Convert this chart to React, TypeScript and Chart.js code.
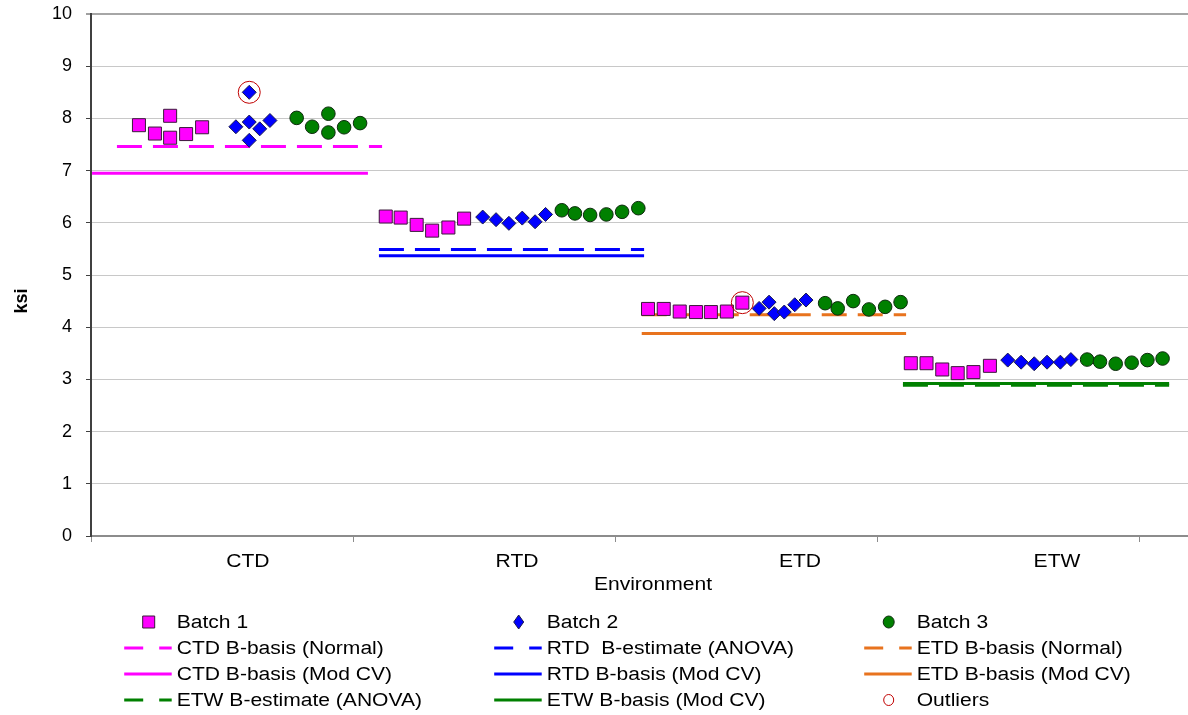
import React, { useEffect, useRef } from "react";
import { Chart, registerables } from "chart.js";

Chart.register(...registerables);

const FONT = "'Liberation Sans', Arial, Helvetica, sans-serif";

// Environments along the x axis and where their labels sit (axis units)
const categories = ["CTD", "RTD", "ETD", "ETW"];
const categoryLabelX = [0.599, 1.626, 2.706, 3.687];
const xAxisTitle = "Environment";
const yAxisTitle = "ksi";
const yTicks = [0, 1, 2, 3, 4, 5, 6, 7, 8, 9, 10];

// Batch 1 specimens (x = plotting position, y = strength in ksi)
const batch1X = [
  0.183, 0.244, 0.302, 0.302, 0.363, 0.424,
  1.125, 1.182, 1.243, 1.302, 1.364, 1.424,
  2.126, 2.186, 2.247, 2.309, 2.366, 2.427, 2.486,
  3.129, 3.189, 3.249, 3.308, 3.368, 3.431,
];
const batch1Y = [
  7.87, 7.71, 8.05, 7.63, 7.7, 7.83,
  6.12, 6.1, 5.96, 5.85, 5.91, 6.08,
  4.35, 4.35, 4.3, 4.29, 4.29, 4.3, 4.47,
  3.31, 3.31, 3.19, 3.12, 3.14, 3.26,
];

// Batch 2 specimens
const batch2X = [
  0.553, 0.604, 0.604, 0.604, 0.644, 0.683,
  1.495, 1.546, 1.595, 1.646, 1.695, 1.735,
  2.55, 2.588, 2.608, 2.646, 2.686, 2.729,
  3.499, 3.55, 3.6, 3.649, 3.7, 3.74,
];
const batch2Y = [
  7.84, 7.93, 8.5, 7.58, 7.8, 7.96,
  6.11, 6.06, 5.99, 6.09, 6.02, 6.16,
  4.36, 4.48, 4.26, 4.29, 4.43, 4.52,
  3.37, 3.33, 3.3, 3.33, 3.33, 3.38,
];

// Batch 3 specimens
const batch3X = [
  0.785, 0.844, 0.906, 0.906, 0.966, 1.027,
  1.797, 1.847, 1.905, 1.967, 2.027, 2.089,
  2.802, 2.85, 2.909, 2.969, 3.031, 3.09,
  3.802, 3.851, 3.911, 3.972, 4.032, 4.09,
];
const batch3Y = [
  8.01, 7.84, 8.09, 7.73, 7.83, 7.91,
  6.24, 6.18, 6.15, 6.16, 6.21, 6.28,
  4.46, 4.36, 4.5, 4.34, 4.39, 4.48,
  3.38, 3.34, 3.3, 3.32, 3.37, 3.4,
];

// Flagged outliers
const outlierX = [0.604, 2.486];
const outlierY = [8.5, 4.47];

// Basis / estimate values and the x-range each one spans
const basisLabels = [
  "CTD B-basis (Normal)",
  "CTD B-basis (Mod CV)",
  "RTD  B-estimate (ANOVA)",
  "RTD B-basis (Mod CV)",
  "ETD B-basis (Normal)",
  "ETD B-basis (Mod CV)",
  "ETW B-estimate (ANOVA)",
  "ETW B-basis (Mod CV)",
];
const basisValues = [7.46, 6.95, 5.49, 5.37, 4.24, 3.88, 2.89, 2.92];
const basisFrom = [0.099, 0.004, 1.099, 1.099, 2.102, 2.102, 3.099, 3.099];
const basisTo = [1.111, 1.057, 2.111, 2.111, 3.111, 3.111, 4.115, 4.115];

// Line styling for the basis series
const basisColors = ["#ff00ff", "#ff00ff", "#0000ff", "#0000ff", "#e8731e", "#e8731e", "#008000", "#008000"];
const basisDashed = [true, false, true, false, true, false, true, false];

// Legend reading order, three columns per row
const legendOrder = [
  "Batch 1", "Batch 2", "Batch 3",
  "CTD B-basis (Normal)", "RTD  B-estimate (ANOVA)", "ETD B-basis (Normal)",
  "CTD B-basis (Mod CV)", "RTD B-basis (Mod CV)", "ETD B-basis (Mod CV)",
  "ETW B-estimate (ANOVA)", "ETW B-basis (Mod CV)", "Outliers",
];

const toPoints = (xs: number[], ys: number[]) => xs.map((x, i) => ({ x, y: ys[i] }));

// Text drawn slightly wide, the way the axis and legend lettering appears
function drawWideText(
  ctx: CanvasRenderingContext2D,
  text: string,
  x: number,
  y: number,
  align: CanvasTextAlign,
  size = 18,
  bold = false
) {
  ctx.save();
  ctx.translate(x, y);
  ctx.scale(1.17, 1);
  ctx.font = `${bold ? "bold " : ""}${size}px ${FONT}`;
  ctx.fillStyle = "#000000";
  ctx.textAlign = align;
  ctx.textBaseline = "middle";
  ctx.fillText(text, 0, 0);
  ctx.restore();
}

function drawMarker(ctx: CanvasRenderingContext2D, ds: any, cx: number, cy: number) {
  ctx.save();
  ctx.fillStyle = ds.backgroundColor;
  ctx.strokeStyle = ds.borderColor;
  ctx.lineWidth = 1;
  ctx.beginPath();
  if (ds.pointStyle === "rect") {
    ctx.rect(cx - 6, cy - 6, 12, 12);
  } else if (ds.pointStyle === "rectRot") {
    ctx.moveTo(cx, cy - 7);
    ctx.lineTo(cx + 5, cy);
    ctx.lineTo(cx, cy + 7);
    ctx.lineTo(cx - 5, cy);
    ctx.closePath();
  } else {
    const r = ds.label === "Outliers" ? 5.5 : 6;
    ctx.ellipse(cx, cy, r - 0.5, r, 0, 0, Math.PI * 2);
  }
  if (ds.backgroundColor !== "transparent") ctx.fill();
  ctx.stroke();
  ctx.restore();
}

const overlayPlugin = {
  id: "overlayText",
  afterDraw(chart: any) {
    const ctx: CanvasRenderingContext2D = chart.ctx;
    const xs = chart.scales.x;

    // category labels and axis titles
    categories.forEach((c, i) => {
      drawWideText(ctx, c, xs.getPixelForValue(categoryLabelX[i]), 562, "center");
    });
    drawWideText(ctx, xAxisTitle, 653, 585, "center");

    ctx.save();
    ctx.translate(22, 301);
    ctx.rotate(-Math.PI / 2);
    ctx.font = `bold 18px ${FONT}`;
    ctx.fillStyle = "#000000";
    ctx.textAlign = "center";
    ctx.textBaseline = "middle";
    ctx.fillText(yAxisTitle, 0, 0);
    ctx.restore();

    // legend: 3 columns x 4 rows
    const colTextX = [176.7, 546.7, 916.7];
    const rowY = [622, 648, 674, 700];
    legendOrder.forEach((label, idx) => {
      const ds = chart.data.datasets.find((d: any) => d.label === label);
      if (!ds) return;
      const tx = colTextX[idx % 3];
      const ry = rowY[Math.floor(idx / 3)];
      if (ds.showLine) {
        ctx.save();
        ctx.strokeStyle = ds.borderColor;
        ctx.lineWidth = 3;
        ctx.setLineDash(ds.borderDash && ds.borderDash.length ? [19, 16] : []);
        ctx.beginPath();
        ctx.moveTo(tx - 52.5, ry);
        ctx.lineTo(tx - 5, ry);
        ctx.stroke();
        ctx.restore();
      } else {
        drawMarker(ctx, ds, tx - 28, ry);
      }
      drawWideText(ctx, label, tx, ry + 1, "left");
    });
  },
};

export default function App() {
  const canvasRef = useRef<HTMLCanvasElement | null>(null);

  useEffect(() => {
    if (!canvasRef.current) return;

    const basisSets = basisLabels.map((label, i) => ({
      label,
      data: [
        { x: basisFrom[i], y: basisValues[i] },
        { x: basisTo[i], y: basisValues[i] },
      ],
      showLine: true,
      borderColor: basisColors[i],
      backgroundColor: basisColors[i],
      borderWidth: 3,
      borderDash: basisDashed[i] ? [25, 11] : [],
      borderCapStyle: "butt",
      pointRadius: 0,
      fill: false,
    }));

    const chart = new Chart(canvasRef.current, {
      type: "scatter",
      data: {
        datasets: [
          {
            label: "Outliers",
            data: toPoints(outlierX, outlierY),
            pointStyle: "circle",
            pointRadius: 11,
            backgroundColor: "transparent",
            borderColor: "#c00000",
            borderWidth: 1,
          },
          {
            label: "Batch 1",
            data: toPoints(batch1X, batch1Y),
            pointStyle: "rect",
            pointRadius: 9.2,
            backgroundColor: "#ff00ff",
            borderColor: "#3a1a3a",
            borderWidth: 1,
          },
          {
            label: "Batch 2",
            data: toPoints(batch2X, batch2Y),
            pointStyle: "rectRot",
            pointRadius: 7,
            backgroundColor: "#0000ff",
            borderColor: "#1a1a4d",
            borderWidth: 1,
          },
          {
            label: "Batch 3",
            data: toPoints(batch3X, batch3Y),
            pointStyle: "circle",
            pointRadius: 6.8,
            backgroundColor: "#008000",
            borderColor: "#0d2a0d",
            borderWidth: 1,
          },
          ...basisSets,
        ] as any,
      },
      options: {
        animation: false,
        responsive: false,
        events: [],
        layout: { autoPadding: false, padding: { top: 14, right: 0, bottom: 0, left: 0 } },
        plugins: {
          legend: { display: false },
          tooltip: { enabled: false },
          title: { display: false },
        },
        scales: {
          x: {
            type: "linear",
            min: 0,
            max: 4.187,
            afterBuildTicks: (s: any) => {
              s.ticks = [0, 1, 2, 3, 4].map((v) => ({ value: v }));
            },
            afterFit: (s: any) => {
              s.height = 179;
              s.paddingLeft = 0;
              s.paddingRight = 0;
              s.paddingTop = 0;
              s.paddingBottom = 0;
            },
            ticks: { display: false },
            grid: {
              drawOnChartArea: false,
              drawTicks: true,
              tickLength: 6,
              color: "#8c8c8c",
              lineWidth: 1,
            },
            border: { color: "#8c8c8c", width: 2 },
          },
          y: {
            type: "linear",
            min: 0,
            max: 10,
            afterBuildTicks: (s: any) => {
              s.ticks = yTicks.map((v) => ({ value: v }));
            },
            afterFit: (s: any) => {
              s.width = 91;
              s.paddingLeft = 0;
              s.paddingRight = 0;
              s.paddingTop = 0;
              s.paddingBottom = 0;
            },
            ticks: {
              color: "#000000",
              padding: 14,
              font: { family: FONT, size: 18 },
            },
            grid: {
              color: (c: any) => (c.tick && c.tick.value === 10 ? "#a6a6a6" : "#c8c8c8"),
              lineWidth: (c: any) => (c.tick && c.tick.value === 10 ? 2 : 1),
              drawTicks: true,
              tickLength: 5,
              tickColor: "#404040",
              tickWidth: 1,
            },
            border: { color: "#404040", width: 2 },
          },
        },
      },
      plugins: [overlayPlugin],
    });

    return () => chart.destroy();
  }, []);

  return (
    <div style={{ position: "absolute", left: 0, top: 0, width: 1188, height: 715, background: "#ffffff" }}>
      <canvas ref={canvasRef} width={1188} height={715} style={{ display: "block" }} />
    </div>
  );
}
